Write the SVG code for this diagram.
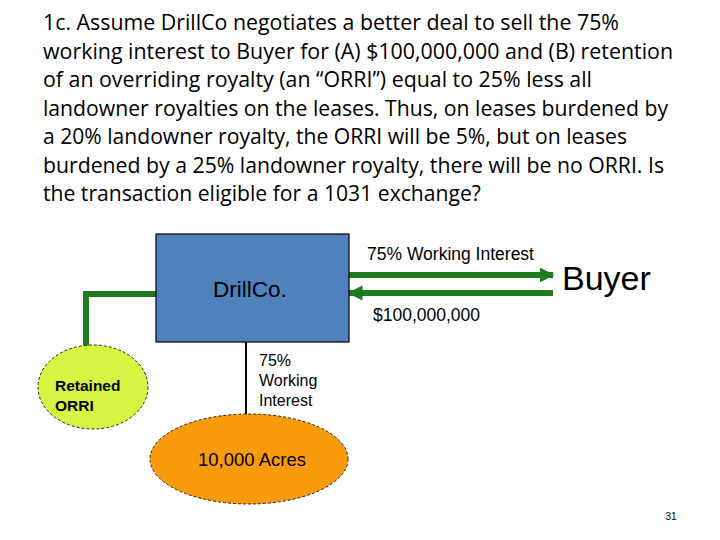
<svg xmlns="http://www.w3.org/2000/svg" width="720" height="540" viewBox="0 0 720 540">
<defs>
<marker id="ah" viewBox="0 0 10 10" refX="9" refY="5" markerWidth="2.5" markerHeight="2.6" orient="auto" markerUnits="strokeWidth">
<path d="M0,0 L10,5 L0,10 z" fill="#1E7B1E"/>
</marker>
<style>
.title{font-family:"Open Sans","Liberation Sans",sans-serif;font-size:21.5px;fill:#000}
.lbl{font-family:"Liberation Sans",Arial,sans-serif;fill:#000}
.green{stroke:#1E7B1E;stroke-width:6;fill:none}
</style>
</defs>
<rect width="720" height="540" fill="#fff"/>
<g id="title" class="title">
<text x="43" y="30" textLength="576" lengthAdjust="spacingAndGlyphs">1c.  Assume DrillCo negotiates a better deal to sell the 75%</text>
<text x="43" y="58.5" textLength="630" lengthAdjust="spacingAndGlyphs">working interest to Buyer for (A) $100,000,000 and (B) retention</text>
<text x="43" y="87" textLength="549" lengthAdjust="spacingAndGlyphs">of an overriding royalty (an “ORRI”) equal to 25% less all</text>
<text x="43" y="115.5" textLength="625" lengthAdjust="spacingAndGlyphs">landowner royalties on the leases.  Thus, on leases burdened by</text>
<text x="43" y="144" textLength="584" lengthAdjust="spacingAndGlyphs">a 20% landowner royalty, the ORRI will be 5%, but on leases</text>
<text x="43" y="172.5" textLength="621" lengthAdjust="spacingAndGlyphs">burdened by a 25% landowner royalty, there will be no ORRI.  Is</text>
<text x="43" y="201" textLength="438" lengthAdjust="spacingAndGlyphs">the transaction eligible for a 1031 exchange?</text>
</g>
<g id="connectors">
<line class="green" x1="349" y1="275" x2="553" y2="275" marker-end="url(#ah)"/>
<line class="green" x1="553" y1="293" x2="349" y2="293" marker-end="url(#ah)"/>
<polyline class="green" points="156,294 86,294 86,354"/>
<line x1="246" y1="342" x2="246" y2="414" stroke="#000" stroke-width="2"/>
</g>
<g id="drillco">
<rect x="156" y="234" width="193" height="108" fill="#4F81BD" stroke="#000" stroke-width="1.2"/>
<text class="lbl" x="250" y="297" font-size="22.5" text-anchor="middle" fill="#0a1020">DrillCo.</text>
</g>
<g id="buyer">
<text class="lbl" x="562" y="290" font-size="34">Buyer</text>
</g>
<g id="label-wi">
<text class="lbl" x="367" y="260" font-size="17.5">75% Working Interest</text>
</g>
<g id="label-cash">
<text class="lbl" x="373" y="321" font-size="17.5">$100,000,000</text>
</g>
<g id="label-wi2" class="lbl" font-size="16">
<text x="259" y="366">75%</text>
<text x="259" y="386">Working</text>
<text x="259" y="406">Interest</text>
</g>
<g id="orri">
<ellipse cx="93" cy="387" rx="55" ry="42" fill="#D5F542" stroke="#222" stroke-width="1" stroke-dasharray="3,2"/>
<text class="lbl" x="55" y="391" font-size="15.5" font-weight="bold">Retained</text>
<text class="lbl" x="55" y="411" font-size="15.5" font-weight="bold">ORRI</text>
</g>
<g id="acres">
<ellipse cx="249" cy="459" rx="99" ry="45" fill="#F99B0C" stroke="#222" stroke-width="1" stroke-dasharray="3,2"/>
<text class="lbl" x="252" y="466" font-size="18.5" text-anchor="middle">10,000 Acres</text>
</g>
<g id="page">
<text class="lbl" x="671" y="520" font-size="10" text-anchor="middle" fill="#888">31</text>
</g>
</svg>
